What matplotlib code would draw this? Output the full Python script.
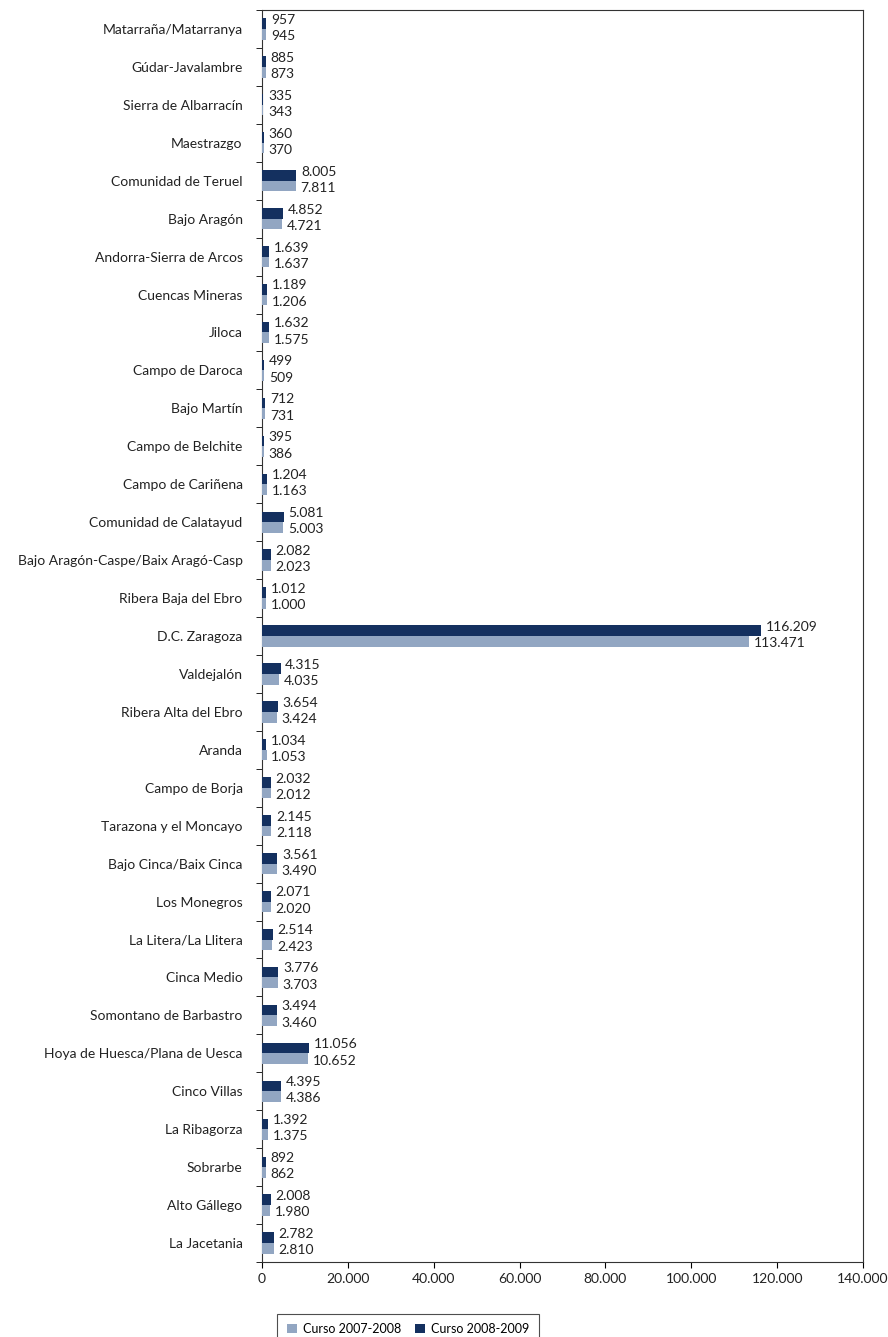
import matplotlib
matplotlib.use("Agg")
import matplotlib.pyplot as plt
import numpy as np
from matplotlib.ticker import FuncFormatter
from matplotlib.patches import Patch

plt.rcParams['font.family'] = ['Lato', 'DejaVu Sans']

categories = ["Matarraña/Matarranya", "Gúdar-Javalambre", "Sierra de Albarracín", "Maestrazgo",
              "Comunidad de Teruel", "Bajo Aragón", "Andorra-Sierra de Arcos", "Cuencas Mineras",
              "Jiloca", "Campo de Daroca", "Bajo Martín", "Campo de Belchite", "Campo de Cariñena",
              "Comunidad de Calatayud", "Bajo Aragón-Caspe/Baix Aragó-Casp", "Ribera Baja del Ebro",
              "D.C. Zaragoza", "Valdejalón", "Ribera Alta del Ebro", "Aranda", "Campo de Borja",
              "Tarazona y el Moncayo", "Bajo Cinca/Baix Cinca", "Los Monegros", "La Litera/La Llitera",
              "Cinca Medio", "Somontano de Barbastro", "Hoya de Huesca/Plana de Uesca", "Cinco Villas",
              "La Ribagorza", "Sobrarbe", "Alto Gállego", "La Jacetania"]
curso_2008_2009 = [957, 885, 335, 360, 8005, 4852, 1639, 1189, 1632, 499, 712, 395, 1204, 5081,
                   2082, 1012, 116209, 4315, 3654, 1034, 2032, 2145, 3561, 2071, 2514, 3776, 3494,
                   11056, 4395, 1392, 892, 2008, 2782]
curso_2007_2008 = [945, 873, 343, 370, 7811, 4721, 1637, 1206, 1575, 509, 731, 386, 1163, 5003,
                   2023, 1000, 113471, 4035, 3424, 1053, 2012, 2118, 3490, 2020, 2423, 3703, 3460,
                   10652, 4386, 1375, 862, 1980, 2810]
legend_labels = ["Curso 2007-2008", "Curso 2008-2009"]

dark = "#14305f"
light = "#92a6c2"
txt = "#222222"

def fmt(v):
    return f"{int(v):,}".replace(",", ".")

fig = plt.figure(figsize=(8.88, 13.37), dpi=100)
ax = fig.add_axes([262/888, 1 - 1262/1337, (863-262)/888, (1262-10)/1337])

n = len(categories)
y = np.arange(n)
h = 0.28
ax.barh(y - h/2, curso_2008_2009, height=h, color=dark, zorder=3)
ax.barh(y + h/2, curso_2007_2008, height=h, color=light, zorder=3)

for i in range(n):
    ax.text(curso_2008_2009[i] + 1100, y[i] - h/2 - 0.1, fmt(curso_2008_2009[i]), va='center', ha='left',
            fontsize=10, color=txt)
    ax.text(curso_2007_2008[i] + 1100, y[i] + h/2 + 0.05, fmt(curso_2007_2008[i]), va='center', ha='left',
            fontsize=10, color=txt)

ax.set_ylim(n - 0.5, -0.5)
ax.set_xlim(0, 140000)
ax.set_yticks(y)
ax.set_yticklabels(categories, fontsize=10, color=txt)
ax.tick_params(axis='y', length=0, pad=14)
ax.set_yticks(np.arange(-0.5, n, 1), minor=True)
ax.tick_params(axis='y', which='minor', length=4, direction='out')
ax.set_xticks(np.arange(0, 140001, 20000))
ax.xaxis.set_major_formatter(FuncFormatter(lambda v, p: fmt(v)))
ax.tick_params(axis='x', length=4, direction='out', labelsize=10, labelcolor=txt, pad=4)
for s in ax.spines.values():
    s.set_color("#333333")
    s.set_linewidth(0.8)

handles = [Patch(facecolor=light, edgecolor='none'), Patch(facecolor=dark, edgecolor='none')]
leg = fig.legend(handles, legend_labels, loc='center', bbox_to_anchor=(408/888, 1 - 1329/1337), ncol=2,
                 frameon=True, fancybox=False, edgecolor='#222222', fontsize=9,
                 handlelength=0.8, handleheight=0.8, columnspacing=1.1, handletextpad=0.5, borderpad=0.75)
leg.get_frame().set_linewidth(0.8)

fig.savefig("out.png", dpi=100)
